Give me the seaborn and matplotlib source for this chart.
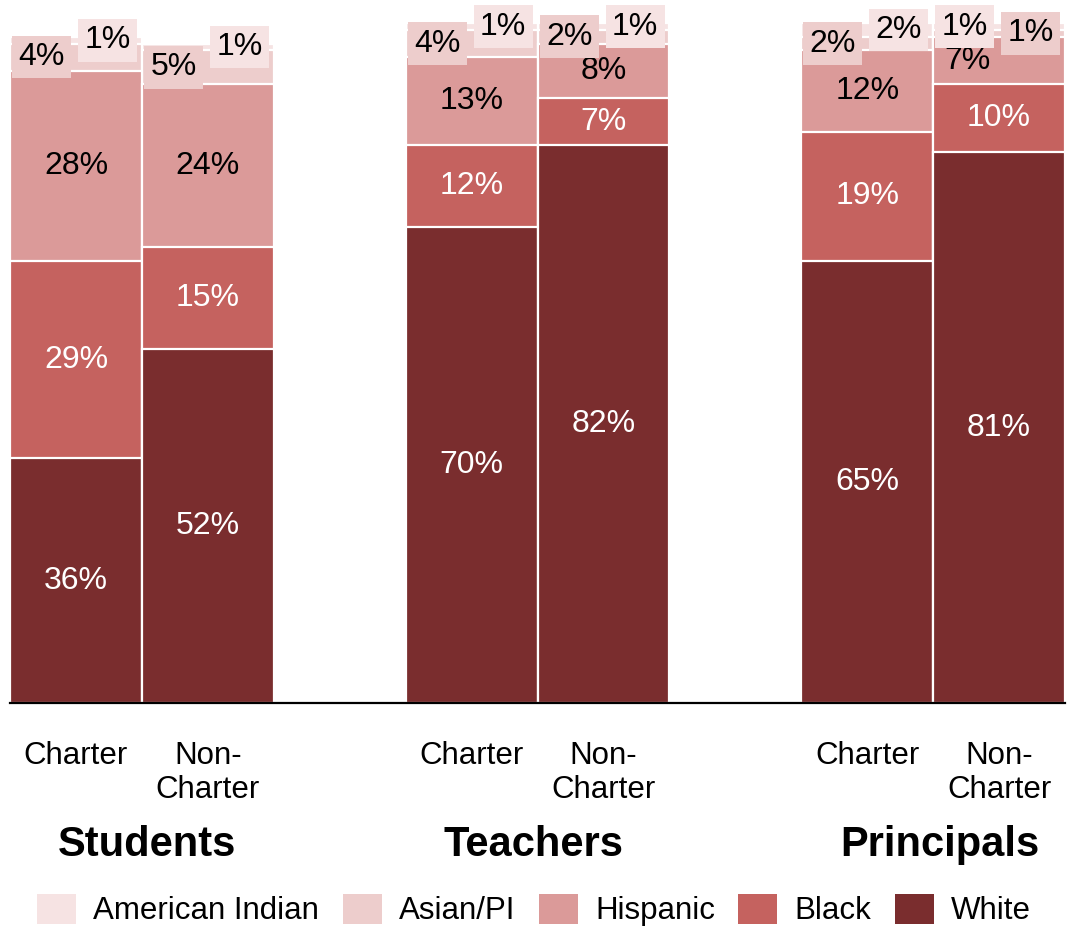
import pandas as pd
import matplotlib.pyplot as plt
import seaborn as sns
from matplotlib.patches import Patch

# Data
groups = ["Students", "Teachers", "Principals"]
schools = ["Charter", "Non-\nCharter"]
races = ["American Indian", "Asian/PI", "Hispanic", "Black", "White"]
white = [36, 52, 70, 82, 65, 81]
black = [29, 15, 12, 7, 19, 10]
hispanic = [28, 24, 13, 8, 12, 7]
asian = [4, 5, 4, 2, 2, 1]
amind = [1, 1, 1, 1, 2, 1]

colors = {"American Indian": "#F6E3E3", "Asian/PI": "#EDCDCC", "Hispanic": "#DB9A99",
          "Black": "#C5625F", "White": "#7A2D2E"}

# bar slots with empty gaps between groups
bars = [f"{g} {s}" for g in groups for s in schools]
order = [bars[0], bars[1], "gap1", bars[2], bars[3], "gap2", bars[4], bars[5]]

df = pd.DataFrame({"bar": bars, "White": white, "Black": black, "Hispanic": hispanic,
                   "Asian/PI": asian, "American Indian": amind})
stack = ["White", "Black", "Hispanic", "Asian/PI", "American Indian"]
cum = df[stack].cumsum(axis=1)
cum["bar"] = df["bar"]

plt.rcParams['font.family'] = ['Liberation Sans', 'DejaVu Sans']
fig = plt.figure(figsize=(10.67, 9.31), dpi=100)
ax = fig.add_axes([10 / 1067, 228 / 931, 1055 / 1067, 703 / 931])

# cumulative bars drawn from top segment down
for race in stack[::-1]:
    sns.barplot(data=cum, x="bar", y=race, order=order, color=colors[race],
                width=1.0, edgecolor="white", linewidth=1.6, saturation=1,
                errorbar=None, ax=ax)

ax.set_ylim(0, 103.4)
ax.set_xlim(-0.5, 7.5)
for s in ["top", "right", "left"]:
    ax.spines[s].set_visible(False)
ax.spines["bottom"].set_linewidth(1.6)
ax.set_yticks([])
ax.set_ylabel("")
ax.set_xlabel("")

pos = [order.index(b) for b in bars]
ax.set_xticks(pos)
ax.set_xticklabels(schools * 3, fontsize=22.5, linespacing=1.2)
ax.tick_params(axis="x", length=0, pad=27)

# value labels
for i, b in enumerate(bars):
    x = pos[i]
    last = i == 5  # last bar: small labels swapped, 7% nudged left
    base = 0
    for race in ["White", "Black", "Hispanic"]:
        v = df.loc[i, race]
        tc = "black" if race == "Hispanic" else "white"
        lx = x - 0.24 if (last and race == "Hispanic") else x
        ax.text(lx, base + v / 2, f"{v}%", ha="center", va="center",
                fontsize=23, color=tc)
        base += v
    a, m = df.loc[i, "Asian/PI"], df.loc[i, "American Indian"]
    ya, ym = base + a / 2, base + a + m / 2
    xa, xm = (x + 0.24, x - 0.26) if last else (x - 0.26, x + 0.24)
    ax.text(xa, ya, f"{a}%", ha="center", va="center", fontsize=23, color="black",
            bbox=dict(boxstyle="square,pad=0.2", fc=colors["Asian/PI"], ec="none"))
    ax.text(xm, ym, f"{m}%", ha="center", va="center", fontsize=23, color="black",
            bbox=dict(boxstyle="square,pad=0.2", fc=colors["American Indian"], ec="none"))

# group titles
for gx, g in zip([147, 534, 940], groups):
    fig.text(gx / 1067, 1 - 845 / 931, g, ha="center", va="center",
             fontsize=30, fontweight="bold")

handles = [Patch(facecolor=colors[r], edgecolor="none", label=r) for r in races]
fig.legend(handles=handles, loc="center", bbox_to_anchor=(534 / 1067, 1 - 910 / 931),
           ncol=5, frameon=False, fontsize=22.5, handlelength=1.25, handleheight=1.1,
           handletextpad=0.55, columnspacing=0.75, borderpad=0)

fig.savefig("out.png", dpi=100)
